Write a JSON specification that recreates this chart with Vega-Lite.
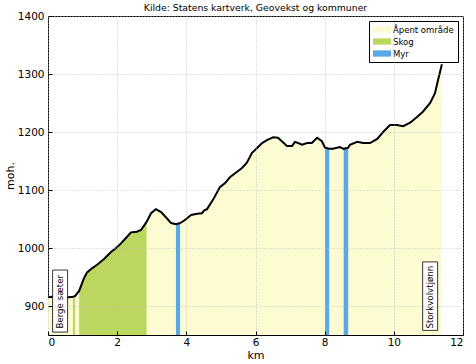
{
  "$schema": "https://vega.github.io/schema/vega-lite/v6.json",
  "width": 415,
  "height": 319,
  "autosize": {"type": "none"},
  "padding": {"left": 48, "top": 16, "right": 13, "bottom": 29},
  "background": "white",
  "title": {"text": "Kilde: Statens kartverk, Geovekst og kommuner", "fontSize": 9.3, "font": "DejaVu Sans", "fontWeight": "normal", "color": "black", "offset": -2, "anchor": "middle"},
  "config": {
    "view": {"stroke": "black", "strokeWidth": 1},
    "font": "DejaVu Sans",
    "axis": {"labelFont": "DejaVu Sans", "labelFontSize": 10.5, "labelColor": "black", "titleFont": "DejaVu Sans", "titleFontSize": 11, "titleFontWeight": "normal", "titleColor": "black", "domain": false, "tickColor": "black", "tickSize": -4, "gridColor": "#b8b8b8", "gridDash": [1, 2], "gridWidth": 0.8},
    "legend": {"orient": "top-right", "offset": 5, "padding": 4, "strokeColor": "black", "fillColor": "white", "cornerRadius": 0, "labelFont": "DejaVu Sans", "labelFontSize": 8.5, "labelColor": "black", "symbolType": "M-1,-0.7H3V0.7H-1Z", "symbolSize": 81, "symbolStrokeWidth": 0, "labelOffset": 11, "rowPadding": 3}
  },
  "datasets": {
    "profile": [
      {"km": 0, "elev": 915, "cover": "Åpent område", "seg": "o"},
      {"km": 0.09, "elev": 916, "cover": "Åpent område", "seg": "o"},
      {"km": 0.23, "elev": 914, "cover": "Åpent område", "seg": "o"},
      {"km": 0.4, "elev": 915, "cover": "Åpent område", "seg": "o"},
      {"km": 0.61, "elev": 915, "cover": "Åpent område", "seg": "o"},
      {"km": 0.72, "elev": 916, "cover": "Skog", "seg": "s1"},
      {"km": 0.78, "elev": 917, "cover": "Skog", "seg": "s1"},
      {"km": 0.9, "elev": 926, "cover": "Skog", "seg": "s2"},
      {"km": 1.04, "elev": 948, "cover": "Skog", "seg": "s2"},
      {"km": 1.13, "elev": 958, "cover": "Skog", "seg": "s2"},
      {"km": 1.27, "elev": 965, "cover": "Skog", "seg": "s2"},
      {"km": 1.42, "elev": 971, "cover": "Skog", "seg": "s2"},
      {"km": 1.62, "elev": 981, "cover": "Skog", "seg": "s2"},
      {"km": 1.82, "elev": 993, "cover": "Skog", "seg": "s2"},
      {"km": 1.97, "elev": 1000, "cover": "Skog", "seg": "s2"},
      {"km": 2.11, "elev": 1008, "cover": "Skog", "seg": "s2"},
      {"km": 2.28, "elev": 1019, "cover": "Skog", "seg": "s2"},
      {"km": 2.4, "elev": 1027, "cover": "Skog", "seg": "s2"},
      {"km": 2.57, "elev": 1028, "cover": "Skog", "seg": "s2"},
      {"km": 2.69, "elev": 1031, "cover": "Skog", "seg": "s2"},
      {"km": 2.85, "elev": 1045, "cover": "Skog", "seg": "s2"},
      {"km": 2.98, "elev": 1060, "cover": "Åpent område", "seg": "o"},
      {"km": 3.12, "elev": 1067, "cover": "Åpent område", "seg": "o"},
      {"km": 3.27, "elev": 1062, "cover": "Åpent område", "seg": "o"},
      {"km": 3.41, "elev": 1053, "cover": "Åpent område", "seg": "o"},
      {"km": 3.56, "elev": 1043, "cover": "Åpent område", "seg": "o"},
      {"km": 3.7, "elev": 1041, "cover": "Myr", "seg": "m1"},
      {"km": 3.82, "elev": 1043, "cover": "Myr", "seg": "m1"},
      {"km": 3.93, "elev": 1047, "cover": "Åpent område", "seg": "o"},
      {"km": 4.14, "elev": 1057, "cover": "Åpent område", "seg": "o"},
      {"km": 4.31, "elev": 1059, "cover": "Åpent område", "seg": "o"},
      {"km": 4.45, "elev": 1060, "cover": "Åpent område", "seg": "o"},
      {"km": 4.52, "elev": 1065, "cover": "Åpent område", "seg": "o"},
      {"km": 4.6, "elev": 1067, "cover": "Åpent område", "seg": "o"},
      {"km": 4.77, "elev": 1083, "cover": "Åpent område", "seg": "o"},
      {"km": 4.97, "elev": 1105, "cover": "Åpent område", "seg": "o"},
      {"km": 5.12, "elev": 1112, "cover": "Åpent område", "seg": "o"},
      {"km": 5.26, "elev": 1122, "cover": "Åpent område", "seg": "o"},
      {"km": 5.41, "elev": 1129, "cover": "Åpent område", "seg": "o"},
      {"km": 5.61, "elev": 1138, "cover": "Åpent område", "seg": "o"},
      {"km": 5.75, "elev": 1147, "cover": "Åpent område", "seg": "o"},
      {"km": 5.9, "elev": 1164, "cover": "Åpent område", "seg": "o"},
      {"km": 6.04, "elev": 1172, "cover": "Åpent område", "seg": "o"},
      {"km": 6.19, "elev": 1181, "cover": "Åpent område", "seg": "o"},
      {"km": 6.33, "elev": 1186, "cover": "Åpent område", "seg": "o"},
      {"km": 6.51, "elev": 1191, "cover": "Åpent område", "seg": "o"},
      {"km": 6.65, "elev": 1190, "cover": "Åpent område", "seg": "o"},
      {"km": 6.91, "elev": 1176, "cover": "Åpent område", "seg": "o"},
      {"km": 7.06, "elev": 1176, "cover": "Åpent område", "seg": "o"},
      {"km": 7.14, "elev": 1183, "cover": "Åpent område", "seg": "o"},
      {"km": 7.23, "elev": 1181, "cover": "Åpent område", "seg": "o"},
      {"km": 7.35, "elev": 1178, "cover": "Åpent område", "seg": "o"},
      {"km": 7.49, "elev": 1181, "cover": "Åpent område", "seg": "o"},
      {"km": 7.63, "elev": 1181, "cover": "Åpent område", "seg": "o"},
      {"km": 7.78, "elev": 1190, "cover": "Åpent område", "seg": "o"},
      {"km": 7.92, "elev": 1184, "cover": "Åpent område", "seg": "o"},
      {"km": 8.01, "elev": 1173, "cover": "Myr", "seg": "m2"},
      {"km": 8.13, "elev": 1171, "cover": "Myr", "seg": "m2"},
      {"km": 8.24, "elev": 1171, "cover": "Åpent område", "seg": "o"},
      {"km": 8.44, "elev": 1174, "cover": "Åpent område", "seg": "o"},
      {"km": 8.55, "elev": 1171, "cover": "Myr", "seg": "m3"},
      {"km": 8.68, "elev": 1173, "cover": "Myr", "seg": "m3"},
      {"km": 8.73, "elev": 1178, "cover": "Åpent område", "seg": "o"},
      {"km": 8.94, "elev": 1183, "cover": "Åpent område", "seg": "o"},
      {"km": 9.11, "elev": 1181, "cover": "Åpent område", "seg": "o"},
      {"km": 9.31, "elev": 1181, "cover": "Åpent område", "seg": "o"},
      {"km": 9.52, "elev": 1188, "cover": "Åpent område", "seg": "o"},
      {"km": 9.69, "elev": 1200, "cover": "Åpent område", "seg": "o"},
      {"km": 9.89, "elev": 1212, "cover": "Åpent område", "seg": "o"},
      {"km": 10.09, "elev": 1212, "cover": "Åpent område", "seg": "o"},
      {"km": 10.27, "elev": 1210, "cover": "Åpent område", "seg": "o"},
      {"km": 10.47, "elev": 1216, "cover": "Åpent område", "seg": "o"},
      {"km": 10.67, "elev": 1226, "cover": "Åpent område", "seg": "o"},
      {"km": 10.84, "elev": 1235, "cover": "Åpent område", "seg": "o"},
      {"km": 11.05, "elev": 1250, "cover": "Åpent område", "seg": "o"},
      {"km": 11.19, "elev": 1267, "cover": "Åpent område", "seg": "o"},
      {"km": 11.28, "elev": 1290, "cover": "Åpent område", "seg": "o"},
      {"km": 11.39, "elev": 1317, "cover": "Åpent område", "seg": "o"}
    ],
    "places": [
      {"name": "Berge sæter", "km": 0.35},
      {"name": "Storkvolvtjønn", "km": 11.05}
    ]
  },
  "layer": [
    {
      "data": {"name": "profile"},
      "mark": {"type": "area", "strokeWidth": 0},
      "encoding": {
        "x": {"field": "km", "type": "quantitative", "scale": {"domain": [0, 12], "nice": false}, "axis": {"values": [0, 2, 4, 6, 8, 10, 12], "format": "d", "title": "km", "titlePadding": 2, "labelPadding": 6, "zindex": 1}},
        "y": {"field": "elev", "type": "quantitative", "scale": {"domain": [850, 1400], "nice": false, "zero": false}, "axis": {"values": [900, 1000, 1100, 1200, 1300, 1400], "format": "d", "title": "moh.", "titlePadding": 2, "labelPadding": 8, "zindex": 1}},
        "y2": {"datum": 850},
        "color": {"datum": "Åpent område", "type": "nominal", "scale": {"domain": ["Åpent område", "Skog", "Myr"], "range": ["#fcfbd2", "#bbd75f", "#5aa9e6"]}, "legend": {"title": null}}
      }
    },
    {
      "data": {"name": "profile"},
      "transform": [{"filter": "datum.cover === 'Skog'"}],
      "mark": {"type": "area", "strokeWidth": 0},
      "encoding": {
        "x": {"field": "km", "type": "quantitative"},
        "y": {"field": "elev", "type": "quantitative"},
        "y2": {"datum": 850},
        "detail": {"field": "seg"},
        "color": {"field": "cover", "type": "nominal", "scale": {"domain": ["Åpent område", "Skog", "Myr"], "range": ["#fcfbd2", "#bbd75f", "#5aa9e6"]}, "legend": {"title": null}}
      }
    },
    {
      "data": {"name": "profile"},
      "transform": [{"filter": "datum.cover === 'Myr'"}],
      "mark": {"type": "area", "strokeWidth": 0},
      "encoding": {
        "x": {"field": "km", "type": "quantitative"},
        "y": {"field": "elev", "type": "quantitative"},
        "y2": {"datum": 850},
        "detail": {"field": "seg"},
        "color": {"field": "cover", "type": "nominal", "scale": {"domain": ["Åpent område", "Skog", "Myr"], "range": ["#fcfbd2", "#bbd75f", "#5aa9e6"]}, "legend": {"title": null}}
      }
    },
    {
      "data": {"name": "profile"},
      "mark": {"type": "line", "color": "black", "strokeWidth": 2},
      "encoding": {
        "x": {"field": "km", "type": "quantitative"},
        "y": {"field": "elev", "type": "quantitative"}
      }
    },
    {
      "data": {"name": "places"},
      "transform": [{"filter": "datum.name === 'Berge sæter'"}],
      "mark": {"type": "rect", "fill": "white", "stroke": "black", "strokeWidth": 0.8, "width": 15},
      "encoding": {
        "x": {"field": "km", "type": "quantitative"},
        "y": {"datum": 855},
        "y2": {"datum": 962}
      }
    },
    {
      "data": {"name": "places"},
      "transform": [{"filter": "datum.name === 'Storkvolvtjønn'"}],
      "mark": {"type": "rect", "fill": "white", "stroke": "black", "strokeWidth": 0.8, "width": 15},
      "encoding": {
        "x": {"field": "km", "type": "quantitative"},
        "y": {"datum": 858},
        "y2": {"datum": 976}
      }
    },
    {
      "data": {"name": "places"},
      "mark": {"type": "text", "angle": 270, "align": "left", "baseline": "middle", "font": "DejaVu Sans", "fontSize": 8.7, "color": "black"},
      "encoding": {
        "x": {"field": "km", "type": "quantitative"},
        "y": {"datum": 861},
        "text": {"field": "name"}
      }
    }
  ]
}
